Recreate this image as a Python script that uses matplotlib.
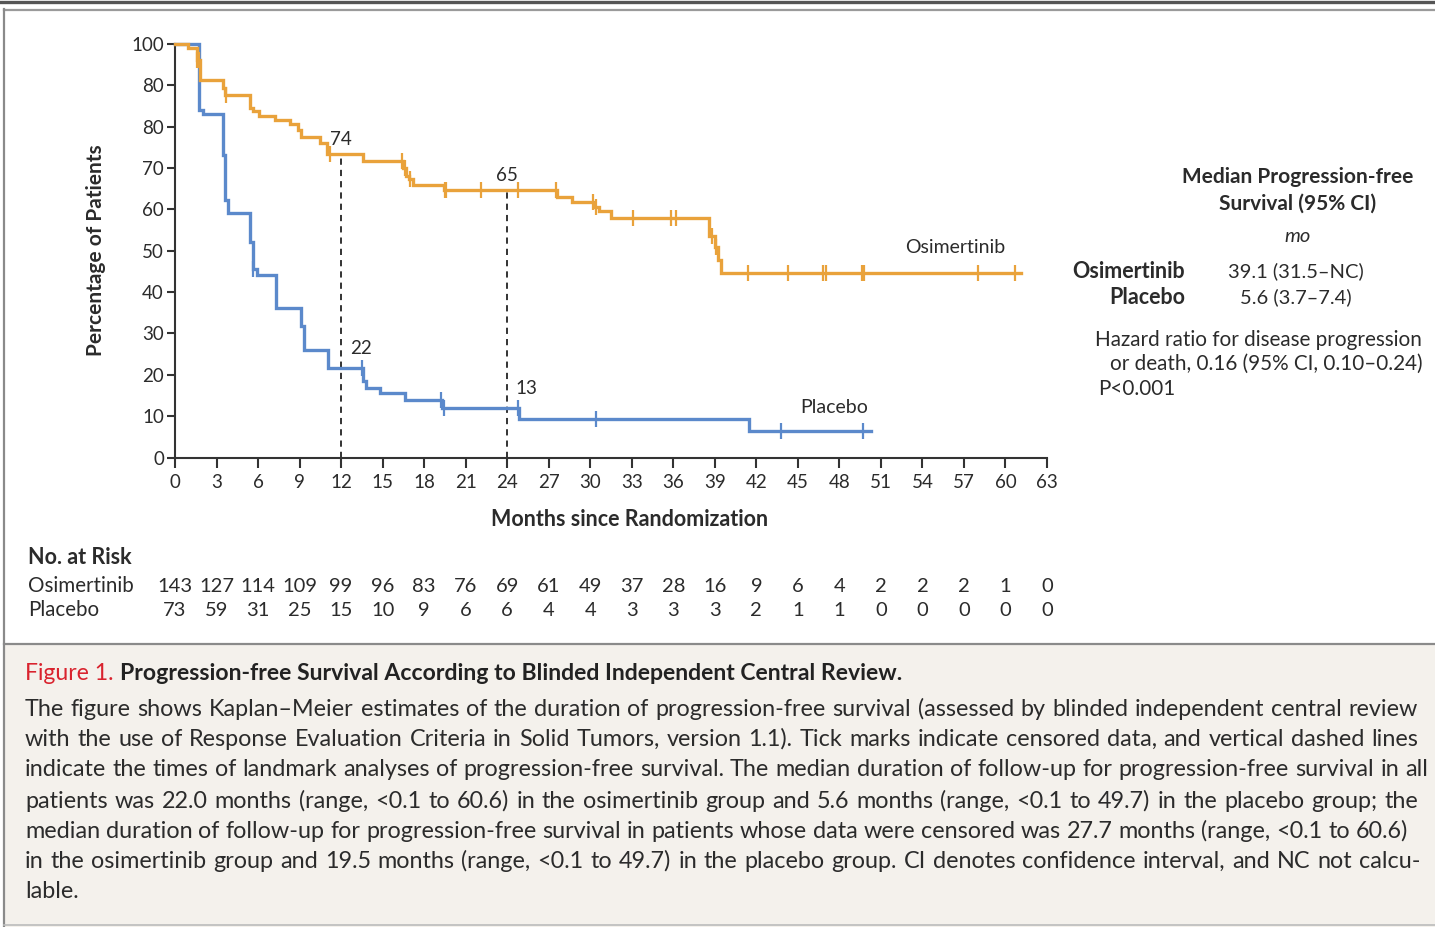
import numpy as np
import matplotlib
matplotlib.use("Agg")
import matplotlib.pyplot as plt
from matplotlib.transforms import blended_transform_factory
from matplotlib.patches import Rectangle
from matplotlib.lines import Line2D

# ---------------- data ----------------
osi_step_months = [0, 0.96, 1.56, 1.8, 3.5, 3.6, 5.4, 5.6, 6.1, 7.2, 8.3, 8.9, 9.1,
                   10.5, 11.0, 13.6, 16.5, 16.7, 16.9, 17.2, 19.45, 27.6, 28.7, 30.3,
                   30.6, 31.5, 38.6, 39.0, 39.2, 39.45]
osi_step_pct = [100, 99.0, 96.1, 91.3, 89.3, 87.7, 84.5, 83.7, 82.6, 81.5, 80.7, 79.2, 77.6,
                76.1, 73.4, 71.6, 70.0, 68.0, 67.3, 66.0, 64.7, 63.1, 61.9, 60.7,
                59.5, 57.9, 53.5, 51.0, 47.8, 44.5]
osi_end_month = 61.1
osi_censor_months = [1.6, 1.75, 3.7, 11.2, 16.4, 16.6, 16.95, 19.5, 19.6, 22.1, 24.8,
                     27.5, 30.2, 30.45, 33.1, 35.8, 36.2, 38.8, 39.1, 41.4, 44.3, 46.8,
                     47.0, 49.6, 49.8, 58.0, 60.7]

pla_step_months = [0, 1.75, 2.05, 3.5, 3.6, 3.85, 5.4, 5.6, 5.9, 7.3, 9.1, 9.3, 11.05,
                   13.6, 13.8, 14.8, 16.6, 19.3, 24.85, 41.5]
pla_step_pct = [100, 84.1, 83.1, 73.2, 62.3, 59.1, 52.0, 45.5, 44.2, 36.2, 31.7, 26.1, 21.7,
                18.4, 16.8, 15.5, 13.8, 12.0, 9.3, 6.4]
pla_end_month = 50.3
pla_censor_months = [5.62, 13.5, 19.25, 19.4, 24.75, 30.4, 43.8, 49.7]

landmark_months = [12, 24]
landmark_osi_labels = ["74", "65"]
landmark_pla_labels = ["22", "13"]

x_ticks = list(range(0, 64, 3))
y_ticks = [0, 10, 20, 30, 40, 50, 60, 70, 80, 90, 100]
y_tick_labels = ["0", "10", "20", "30", "40", "50", "60", "70", "80", "80", "100"]

risk_months = list(range(0, 64, 3))
risk_osi = [143, 127, 114, 109, 99, 96, 83, 76, 69, 61, 49, 37, 28, 16, 9, 6, 4, 2, 2, 2, 1, 0]
risk_pla = [73, 59, 31, 25, 15, 10, 9, 6, 6, 4, 4, 3, 3, 3, 2, 1, 1, 0, 0, 0, 0, 0]

caption_lines = [
    "The figure shows Kaplan\u2013Meier estimates of the duration of progression-free survival (assessed by blinded independent central review",
    "with the use of Response Evaluation Criteria in Solid Tumors, version 1.1). Tick marks indicate censored data, and vertical dashed lines",
    "indicate the times of landmark analyses of progression-free survival. The median duration of follow-up for progression-free survival in all",
    "patients was 22.0 months (range, <0.1 to 60.6) in the osimertinib group and 5.6 months (range, <0.1 to 49.7) in the placebo group; the",
    "median duration of follow-up for progression-free survival in patients whose data were censored was 27.7 months (range, <0.1 to 60.6)",
    "in the osimertinib group and 19.5 months (range, <0.1 to 49.7) in the placebo group. CI denotes confidence interval, and NC not calcu-",
    "lable.",
]

# ---------------- style ----------------
W, H = 1435, 927
ORANGE = "#E9A23B"
BLUE = "#5B89CB"
TXT = "#2B2B2B"
RED = "#D9232E"
plt.rcParams["font.family"] = ["Lato", "DejaVu Sans"]
plt.rcParams["text.color"] = TXT

def fx(x):
    return x / W

def fy(y):
    return 1 - y / H

fig = plt.figure(figsize=(W / 100, H / 100), dpi=100)
fig.patch.set_facecolor("white")

# frame / caption background
fig.patches.append(Rectangle((fx(4), 0), 1 - fx(4), fy(644), transform=fig.transFigure,
                             facecolor="#F4F1EC", edgecolor="none", zorder=0))
for (x0, y0, x1, y1, c, lw) in [(0, 2, W, 2, "#555555", 2.4),
                                 (4, 9.5, W, 9.5, "#9A9A9A", 1.6),
                                 (4, 9, 4, H, "#8A8A8A", 1.6),
                                 (4, 643.5, W, 643.5, "#8A8A8A", 1.6),
                                 (4, 925, W, 925, "#BBBBBB", 1.2)]:
    fig.add_artist(Line2D([fx(x0), fx(x1)], [fy(y0), fy(y1)], transform=fig.transFigure,
                          color=c, lw=lw))

# ---------------- axes ----------------
ax_l, ax_r, ax_t, ax_b = 175, 1047, 44, 457.5
ax = fig.add_axes([fx(ax_l), fy(ax_b), (ax_r - ax_l) / W, (ax_b - ax_t) / H])
ax.set_facecolor("none")
ax.set_xlim(0, 63)
ax.set_ylim(0, 100)
for s in ["top", "right"]:
    ax.spines[s].set_visible(False)
for s in ["left", "bottom"]:
    ax.spines[s].set_color("#333333")
    ax.spines[s].set_linewidth(1.5)
ax.set_xticks(x_ticks)
ax.set_xticklabels([str(v) for v in x_ticks])
ax.set_yticks(y_ticks)
ax.set_yticklabels(y_tick_labels)
ax.tick_params(axis="x", length=7, width=1.5, color="#333333", pad=5,
               labelsize=13.5, labelcolor=TXT)
ax.tick_params(axis="y", length=6, width=1.5, color="#333333", pad=2,
               labelsize=13.5, labelcolor=TXT)


def step_value(times, pct, t):
    i = np.searchsorted(np.asarray(times), t, side="right") - 1
    return pct[i]


for times, pct, end, cens, col in [
        (pla_step_months, pla_step_pct, pla_end_month, pla_censor_months, BLUE),
        (osi_step_months, osi_step_pct, osi_end_month, osi_censor_months, ORANGE)]:
    ax.step(list(times) + [end], list(pct) + [pct[-1]], where="post", color=col,
            lw=2.4, clip_on=False, zorder=3, solid_joinstyle="miter")
    cy = [step_value(times, pct, c) for c in cens]
    ax.plot(cens, cy, ls="none", marker="|", ms=11, mew=1.6, color=col,
            clip_on=False, zorder=4)

# landmark dashed lines + labels
for m, lo, lp in zip(landmark_months, landmark_osi_labels, landmark_pla_labels):
    so = step_value(osi_step_months, osi_step_pct, m)
    sp = step_value(pla_step_months, pla_step_pct, m)
    ax.plot([m, m], [0, so], color="#333333", lw=1.4, ls=(0, (3.2, 2.6)), zorder=2)
    ax.annotate(lo, (m, so), xytext=(0, 4), textcoords="offset points",
                ha="center", va="bottom", fontsize=13.5, color=TXT)
    ax.annotate(lp, (m, sp), xytext=(14, 8), textcoords="offset points",
                ha="center", va="bottom", fontsize=13.5, color=TXT)

ax.text(56.35, 50.9, "Osimertinib", ha="center", va="center", fontsize=14, color=TXT)
ax.text(47.6, 12.0, "Placebo", ha="center", va="center", fontsize=14, color=TXT)

fig.text(fx(96), fy(250), "Percentage of Patients", rotation=90, ha="center", va="center",
         fontsize=15, fontweight="bold")
fig.text(fx(630), fy(519), "Months since Randomization", ha="center", va="center",
         fontsize=15.5, fontweight="bold")

# ---------------- risk table ----------------
tr = blended_transform_factory(ax.transData, fig.transFigure)
fig.text(fx(28), fy(558), "No. at Risk", ha="left", va="center", fontsize=15.5,
         fontweight="bold")
fig.text(fx(28), fy(586), "Osimertinib", ha="left", va="center", fontsize=14.8)
fig.text(fx(28), fy(610), "Placebo", ha="left", va="center", fontsize=14.8)
for m, a, b in zip(risk_months, risk_osi, risk_pla):
    fig.text(m, fy(586), str(a), transform=tr, ha="center", va="center", fontsize=14.5)
    fig.text(m, fy(610), str(b), transform=tr, ha="center", va="center", fontsize=14.5)

# ---------------- right-hand annotation ----------------
fig.text(fx(1298), fy(177), "Median Progression-free", ha="center", va="center",
         fontsize=15, fontweight="bold")
fig.text(fx(1298), fy(204), "Survival (95% CI)", ha="center", va="center",
         fontsize=15, fontweight="bold")
fig.text(fx(1298), fy(237), "mo", ha="center", va="center", fontsize=14.5, style="italic")
fig.text(fx(1185), fy(271), "Osimertinib", ha="right", va="center", fontsize=15.5,
         fontweight="bold")
fig.text(fx(1185), fy(297), "Placebo", ha="right", va="center", fontsize=15.5,
         fontweight="bold")
fig.text(fx(1296), fy(271), "39.1 (31.5\u2013NC)", ha="center", va="center", fontsize=14.5)
fig.text(fx(1296), fy(297), "5.6 (3.7\u20137.4)", ha="center", va="center", fontsize=14.5)
fig.text(fx(1422), fy(340), "Hazard ratio for disease progression", ha="right",
         va="center", fontsize=14.9)
fig.text(fx(1422), fy(364), "or death, 0.16 (95% CI, 0.10\u20130.24)", ha="right",
         va="center", fontsize=14.9)
fig.text(fx(1098), fy(389), "P<0.001", ha="left", va="center", fontsize=14.9)

# ---------------- caption ----------------
renderer = fig.canvas.get_renderer()
CAP = 16.8
t1 = fig.text(fx(25), fy(673), "Figure 1.", ha="left", va="center", fontsize=16.6,
              color=RED)
w1 = t1.get_window_extent(renderer).width
fig.text(fx(25 + w1 + 6), fy(673),
         "Progression-free Survival According to Blinded Independent Central Review.",
         ha="left", va="center", fontsize=16.6, fontweight="bold", color="#222222")

line_y = [709, 739, 769, 801, 831, 861, 892]
line_right = [1418, 1418, 1428, 1418, 1408, 1420, None]
for txt, yy, xr in zip(caption_lines, line_y, line_right):
    words = txt.split(" ")
    if xr is None:
        fig.text(fx(25), fy(yy), txt, ha="left", va="center", fontsize=CAP)
        continue
    arts = [fig.text(0, fy(yy), w_, ha="left", va="center", fontsize=CAP) for w_ in words]
    widths = [a.get_window_extent(renderer).width for a in arts]
    gap = (xr - 25 - sum(widths)) / (len(words) - 1)
    x = 25
    for a, wd in zip(arts, widths):
        a.set_x(fx(x))
        x += wd + gap

fig.savefig("out.png", dpi=100)
